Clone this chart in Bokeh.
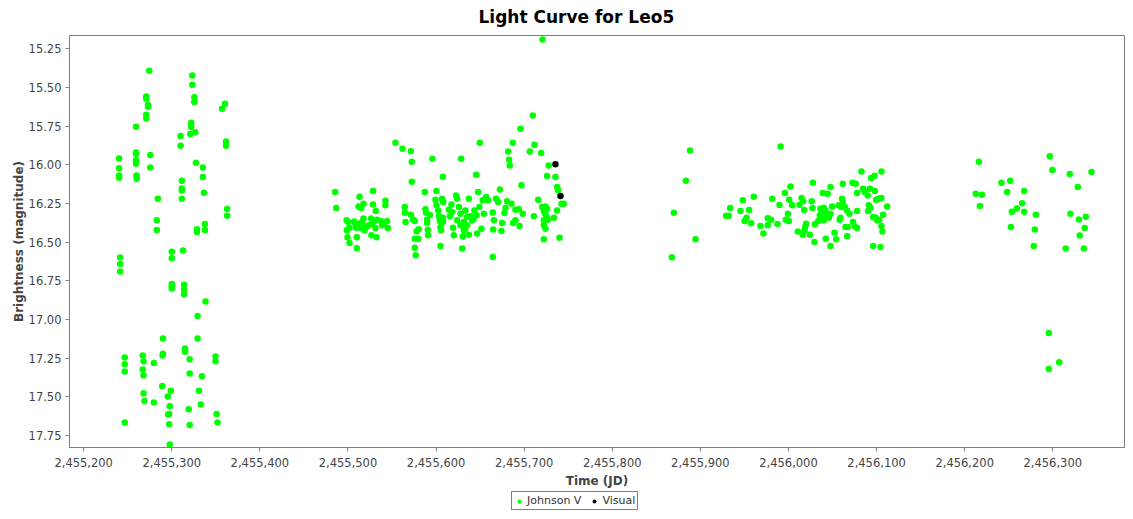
from bokeh.plotting import figure
from bokeh.layouts import column
from bokeh.models import (Range1d, FixedTicker, NumeralTickFormatter, Legend,
                          LegendItem, ColumnDataSource)
from bokeh.embed import file_html
from bokeh.resources import INLINE

# ---------------- data (JD, magnitude) ----------------
season1 = [
    (2455274.4, 15.392), (2455323.3, 15.422), (2455323.3, 15.483), (2455271.0, 15.558),
    (2455271.0, 15.573), (2455325.6, 15.564), (2455325.6, 15.594), (2455273.0, 15.614),
    (2455273.0, 15.625), (2455357.0, 15.638), (2455360.5, 15.605), (2455271.0, 15.676),
    (2455271.0, 15.700), (2455259.4, 15.754), (2455322.0, 15.728), (2455322.0, 15.756),
    (2455321.0, 15.801), (2455326.7, 15.790), (2455310.0, 15.814), (2455310.0, 15.877),
    (2455361.6, 15.850), (2455361.6, 15.877), (2455240.2, 15.960), (2455240.2, 16.023),
    (2455240.2, 16.070), (2455240.2, 16.083), (2455259.4, 15.920), (2455259.4, 15.930),
    (2455259.4, 15.970), (2455259.4, 15.993), (2455260.1, 16.070), (2455260.1, 16.090),
    (2455275.6, 15.937), (2455275.6, 16.017), (2455327.4, 15.986), (2455335.3, 16.017),
    (2455335.3, 16.079), (2455311.4, 16.103), (2455311.4, 16.154), (2455311.4, 16.167),
    (2455311.4, 16.219), (2455336.5, 16.180), (2455284.2, 16.219), (2455283.0, 16.359),
    (2455283.0, 16.421), (2455362.8, 16.286), (2455362.8, 16.329), (2455328.6, 16.417),
    (2455328.6, 16.434), (2455337.6, 16.383), (2455337.6, 16.421), (2455241.4, 16.600),
    (2455241.4, 16.641), (2455241.4, 16.690), (2455300.0, 16.562), (2455300.0, 16.605),
    (2455312.8, 16.555), (2455300.0, 16.770), (2455300.0, 16.785), (2455300.0, 16.800),
    (2455313.9, 16.775), (2455313.9, 16.807), (2455313.9, 16.837), (2455338.3, 16.884),
    (2455329.3, 16.977), (2455290.0, 17.123), (2455329.3, 17.123), (2455289.5, 17.233),
    (2455290.0, 17.222), (2455315.0, 17.188), (2455315.0, 17.198), (2455315.0, 17.209),
    (2455267.0, 17.233), (2455267.0, 17.323), (2455268.0, 17.270), (2455268.0, 17.362),
    (2455246.6, 17.246), (2455246.6, 17.289), (2455246.6, 17.337), (2455279.7, 17.282),
    (2455320.3, 17.257), (2455320.3, 17.350), (2455334.2, 17.367), (2455349.6, 17.240),
    (2455349.6, 17.270), (2455289.1, 17.431), (2455298.9, 17.461), (2455330.8, 17.461),
    (2455268.0, 17.478), (2455269.0, 17.528), (2455279.7, 17.537), (2455295.5, 17.499),
    (2455297.7, 17.562), (2455319.2, 17.580), (2455333.0, 17.550), (2455296.0, 17.614),
    (2455297.0, 17.612), (2455350.8, 17.612), (2455246.6, 17.666), (2455297.0, 17.677),
    (2455320.3, 17.683), (2455351.9, 17.666), (2455297.7, 17.808),
]

season2 = [
    (2455485.5, 16.176), (2455486.6, 16.279), (2455513.1, 16.206), (2455528.5, 16.170),
    (2455512.0, 16.269), (2455515.0, 16.280), (2455517.6, 16.252), (2455528.5, 16.256),
    (2455531.6, 16.299), (2455542.5, 16.232), (2455542.5, 16.262), (2455498.4, 16.359),
    (2455500.2, 16.370), (2455498.7, 16.424), (2455501.7, 16.407), (2455507.0, 16.366),
    (2455508.5, 16.385), (2455509.2, 16.407), (2455512.3, 16.381), (2455513.9, 16.407),
    (2455516.1, 16.370), (2455517.6, 16.348), (2455518.7, 16.424), (2455520.6, 16.402),
    (2455523.6, 16.391), (2455526.3, 16.348), (2455527.4, 16.381), (2455530.0, 16.363),
    (2455531.2, 16.409), (2455533.1, 16.355), (2455537.6, 16.363), (2455538.8, 16.391),
    (2455540.6, 16.381), (2455544.4, 16.363), (2455545.2, 16.409), (2455499.5, 16.469),
    (2455501.7, 16.506), (2455510.0, 16.469), (2455510.0, 16.540), (2455526.6, 16.456),
    (2455532.4, 16.469),
    (2455553.9, 15.857), (2455561.9, 15.896), (2455571.3, 15.913), (2455572.4, 15.980),
    (2455595.9, 15.961), (2455607.7, 16.077), (2455572.4, 16.109), (2455587.2, 16.176),
    (2455600.4, 16.170), (2455564.5, 16.273), (2455564.5, 16.310), (2455565.3, 16.370),
    (2455571.3, 16.323), (2455573.9, 16.355), (2455575.8, 16.363), (2455580.4, 16.417),
    (2455577.8, 16.430), (2455575.8, 16.478), (2455575.8, 16.536), (2455576.9, 16.585),
    (2455579.7, 16.478), (2455587.9, 16.288), (2455588.7, 16.310), (2455589.8, 16.355),
    (2455589.8, 16.376), (2455590.6, 16.420), (2455590.9, 16.456), (2455592.9, 16.325),
    (2455599.3, 16.226), (2455600.4, 16.262), (2455602.3, 16.295), (2455603.1, 16.333),
    (2455604.2, 16.363), (2455605.0, 16.402), (2455605.7, 16.424), (2455605.0, 16.525),
    (2455606.8, 16.219), (2455608.0, 16.241), (2455607.7, 16.342), (2455607.7, 16.370),
    (2455614.4, 16.290), (2455615.6, 16.333), (2455617.5, 16.256), (2455618.2, 16.305),
    (2455619.3, 16.407), (2455620.1, 16.456),
    (2455709.8, 15.681), (2455695.8, 15.767), (2455649.6, 15.857), (2455687.1, 15.857),
    (2455711.7, 15.870), (2455706.4, 15.914), (2455719.3, 15.924), (2455681.8, 15.914),
    (2455682.9, 15.967), (2455683.6, 16.004), (2455628.5, 15.961), (2455727.9, 16.004),
    (2455726.0, 16.073), (2455735.5, 16.079), (2455645.5, 16.064), (2455696.9, 16.133),
    (2455672.4, 16.159), (2455737.4, 16.144), (2455738.5, 16.165), (2455742.3, 16.252),
    (2455744.9, 16.252), (2455715.9, 16.226), (2455737.4, 16.295), (2455647.7, 16.176),
    (2455622.7, 16.198), (2455623.9, 16.219), (2455637.2, 16.219), (2455653.0, 16.230),
    (2455656.8, 16.208), (2455659.1, 16.230), (2455668.1, 16.219), (2455670.5, 16.241),
    (2455678.8, 16.280), (2455680.6, 16.236), (2455685.6, 16.252), (2455690.1, 16.290),
    (2455693.9, 16.288), (2455698.4, 16.316), (2455710.9, 16.333), (2455720.4, 16.273),
    (2455724.2, 16.269), (2455726.0, 16.284), (2455722.3, 16.301), (2455724.2, 16.320),
    (2455726.0, 16.342), (2455722.3, 16.359), (2455726.8, 16.355), (2455733.7, 16.342),
    (2455722.3, 16.391), (2455724.2, 16.413), (2455740.1, 16.471), (2455722.3, 16.482),
    (2455664.3, 16.308), (2455665.6, 16.359), (2455675.0, 16.376), (2455677.6, 16.312),
    (2455687.5, 16.376), (2455690.1, 16.359), (2455694.6, 16.396), (2455664.8, 16.419),
    (2455674.2, 16.428), (2455651.5, 16.413), (2455646.6, 16.445), (2455637.2, 16.452),
    (2455654.2, 16.316), (2455649.2, 16.273), (2455645.9, 16.327), (2455629.6, 16.542),
    (2455664.4, 16.596), (2455630.3, 16.463), (2455631.5, 16.424), (2455625.8, 16.273),
    (2455633.3, 16.295), (2455635.2, 16.338), (2455639.0, 16.333), (2455642.7, 16.348),
    (2455631.5, 16.370), (2455623.9, 16.359), (2455627.7, 16.391), (2455635.2, 16.391),
    (2455633.3, 16.413), (2455640.9, 16.359), (2455643.5, 16.295), (2455627.7, 16.316),
    (2455720.8, 15.190),
]

season3 = [
    (2455888.2, 15.907), (2455883.5, 16.103), (2455869.8, 16.310), (2455894.5, 16.482),
    (2455867.6, 16.598), (2455991.0, 15.881), (2455933.8, 16.279), (2455929.2, 16.329),
    (2455932.2, 16.329), (2455948.1, 16.230), (2455945.5, 16.299), (2455955.4, 16.292),
    (2455960.6, 16.206), (2455952.4, 16.342), (2455950.1, 16.363), (2455957.6, 16.378),
    (2455968.2, 16.396), (2455971.6, 16.445), (2455976.5, 16.346), (2455980.3, 16.355),
    (2455976.5, 16.391), (2455987.5, 16.383), (2455981.5, 16.219), (2455989.8, 16.260),
    (2455995.9, 16.183), (2456000.8, 16.226), (2455999.3, 16.316), (2455997.0, 16.355),
    (2456000.4, 16.363), (2456002.3, 16.140),
    (2456004.2, 16.262), (2456027.7, 16.116), (2456014.8, 16.215), (2456016.7, 16.236),
    (2456012.5, 16.258), (2456017.8, 16.292), (2456026.4, 16.236), (2456027.2, 16.280),
    (2456038.9, 16.183), (2456044.6, 16.187), (2456047.7, 16.144), (2456061.6, 16.122),
    (2456072.6, 16.116), (2456076.4, 16.122), (2456082.8, 16.043), (2456093.8, 16.086),
    (2456097.6, 16.071), (2456105.5, 16.043), (2456077.9, 16.183), (2456084.7, 16.155),
    (2456086.6, 16.176), (2456090.0, 16.198), (2456092.3, 16.155), (2456098.0, 16.170),
    (2456091.2, 16.262), (2456093.1, 16.277), (2456090.4, 16.299), (2456099.5, 16.226),
    (2456102.5, 16.219), (2456105.5, 16.215), (2456112.0, 16.269), (2456060.8, 16.219),
    (2456061.6, 16.241), (2456059.7, 16.273), (2456057.1, 16.262), (2456064.0, 16.273),
    (2456066.6, 16.295), (2456069.2, 16.316), (2456077.9, 16.299), (2456059.0, 16.342),
    (2456058.2, 16.355), (2456036.3, 16.284), (2456038.2, 16.305), (2456040.1, 16.277),
    (2456042.0, 16.295), (2456035.6, 16.327), (2456038.2, 16.348), (2456043.2, 16.327),
    (2456045.8, 16.342), (2456047.7, 16.316), (2456033.7, 16.363), (2456040.1, 16.359),
    (2456049.6, 16.269), (2456029.9, 16.385), (2456020.0, 16.381), (2456018.9, 16.402),
    (2456018.2, 16.424), (2456010.6, 16.432), (2456016.3, 16.452), (2456024.2, 16.452),
    (2456029.5, 16.499), (2456042.3, 16.478), (2456047.7, 16.525), (2456052.2, 16.439),
    (2456054.1, 16.482), (2456064.7, 16.402), (2456067.3, 16.402), (2456066.6, 16.462),
    (2456073.3, 16.370), (2456074.9, 16.396), (2456077.9, 16.409), (2456096.1, 16.338),
    (2456098.7, 16.342), (2456100.6, 16.359), (2456102.9, 16.355), (2456107.4, 16.323),
    (2456105.5, 16.396), (2456106.6, 16.432), (2456096.1, 16.525), (2456104.4, 16.531),
]

season4 = [
    (2456216.1, 15.980), (2456212.6, 16.187), (2456219.5, 16.193), (2456217.2, 16.267),
    (2456241.7, 16.116), (2456251.6, 16.103), (2456248.2, 16.176), (2456267.5, 16.170),
    (2456265.2, 16.249), (2456259.2, 16.282), (2456253.5, 16.303), (2456267.5, 16.303),
    (2456252.4, 16.402), (2456280.8, 16.323), (2456279.6, 16.419), (2456278.4, 16.525),
    (2456296.6, 15.944), (2456299.6, 16.034), (2456319.3, 16.060), (2456343.9, 16.047),
    (2456328.4, 16.144), (2456320.0, 16.316), (2456329.6, 16.353), (2456337.5, 16.336),
    (2456336.3, 16.409), (2456330.6, 16.458), (2456314.7, 16.542), (2456335.2, 16.542),
    (2456295.5, 17.087), (2456307.3, 17.277), (2456295.5, 17.320),
]

visual = [(2455735.5, 15.997), (2455741.2, 16.202)]

series_names = ["Johnson V", "Visual"]
series_colors = ["#00ff00", "#000000"]

x_ticks = [2455200, 2455300, 2455400, 2455500, 2455600, 2455700,
           2455800, 2455900, 2456000, 2456100, 2456200, 2456300]
y_ticks = [15.25, 15.50, 15.75, 16.00, 16.25, 16.50, 16.75, 17.00,
           17.25, 17.50, 17.75]

# ---------------- main figure ----------------
johnson = season1 + season2 + season3 + season4
src_v = ColumnDataSource(dict(x=[q[0] for q in johnson], y=[q[1] for q in johnson]))
src_vis = ColumnDataSource(dict(x=[q[0] for q in visual], y=[q[1] for q in visual]))

W = 1125
p = figure(width=W, height=490,
           x_range=Range1d(2455183.9, 2456381.4),
           y_range=Range1d(17.828, 15.164),
           output_backend="svg", toolbar_location=None,
           min_border_left=69, min_border_right=1,
           min_border_top=35, min_border_bottom=43,
           background_fill_color="white", border_fill_color="white",
           outline_line_color="#808080", outline_line_width=1)

p.xgrid.visible = False
p.ygrid.visible = False

r1 = p.scatter("x", "y", source=src_v, size=6.5, fill_color=series_colors[0],
               line_color=None)
r2 = p.scatter("x", "y", source=src_vis, size=6.5, fill_color=series_colors[1],
               line_color=None)

# title
p.title.text = "Light Curve for Leo5"
p.title.text_font = "DejaVu Sans"
p.title.text_font_size = "17px"
p.title.text_font_style = "bold"
p.title.text_color = "#000000"
p.title.align = "left"
p.title.vertical_align = "top"
p.title.offset = 409
p.title.standoff = 13

# axes
for ax in (p.xaxis[0], p.yaxis[0]):
    ax.major_label_text_font = "DejaVu Sans"
    ax.major_label_text_font_size = "11.5px"
    ax.major_label_text_color = "#444444"
    ax.axis_label_text_font = "DejaVu Sans"
    ax.axis_label_text_font_size = "12px"
    ax.axis_label_text_font_style = "bold"
    ax.axis_label_text_color = "#444444"
    ax.axis_line_color = "#808080"
    ax.major_tick_line_color = "#808080"
    ax.major_tick_out = 4
    ax.major_tick_in = 0
    ax.minor_tick_out = 0
    ax.minor_tick_in = 0
    ax.major_label_standoff = 4

p.xaxis[0].ticker = FixedTicker(ticks=x_ticks)
p.xaxis[0].formatter = NumeralTickFormatter(format="0,0")
p.xaxis[0].axis_label = "Time (JD)"
p.xaxis[0].major_label_standoff = 6
p.xaxis[0].axis_label_standoff = 4

p.yaxis[0].ticker = FixedTicker(ticks=y_ticks)
p.yaxis[0].formatter = NumeralTickFormatter(format="0.00")
p.yaxis[0].axis_label = "Brightness (magnitude)"
p.yaxis[0].axis_label_standoff = 0

# ---------------- legend strip under the chart ----------------
lf = figure(width=W, height=21, title=None,
            x_range=Range1d(0, 1), y_range=Range1d(0, 1),
            output_backend="svg", toolbar_location=None,
            x_axis_location=None, y_axis_location=None,
            min_border=0, outline_line_color=None,
            background_fill_color="white", border_fill_color="white")
lf.xgrid.visible = False
lf.ygrid.visible = False
# legend proxies: one point each, placed outside the strip's visible range
d1 = lf.scatter(x=[-10], y=[-10], size=6.5, fill_color=series_colors[0], line_color=None)
d2 = lf.scatter(x=[-10], y=[-10], size=6.5, fill_color=series_colors[1], line_color=None)

legend = Legend(items=[LegendItem(label=series_names[0], renderers=[d1]),
                       LegendItem(label=series_names[1], renderers=[d2])],
                orientation="horizontal", location=(442, 1),
                label_text_font="DejaVu Sans", label_text_font_size="11px",
                label_text_color="#333333", label_height=12,
                glyph_width=10, glyph_height=10, label_standoff=3,
                spacing=8, padding=2, margin=0,
                border_line_color="#000000", border_line_width=1,
                background_fill_color="white", background_fill_alpha=1.0)
lf.add_layout(legend, "center")

layout = column(p, lf, spacing=0)
open("out.html", "w").write(file_html(layout, INLINE))
